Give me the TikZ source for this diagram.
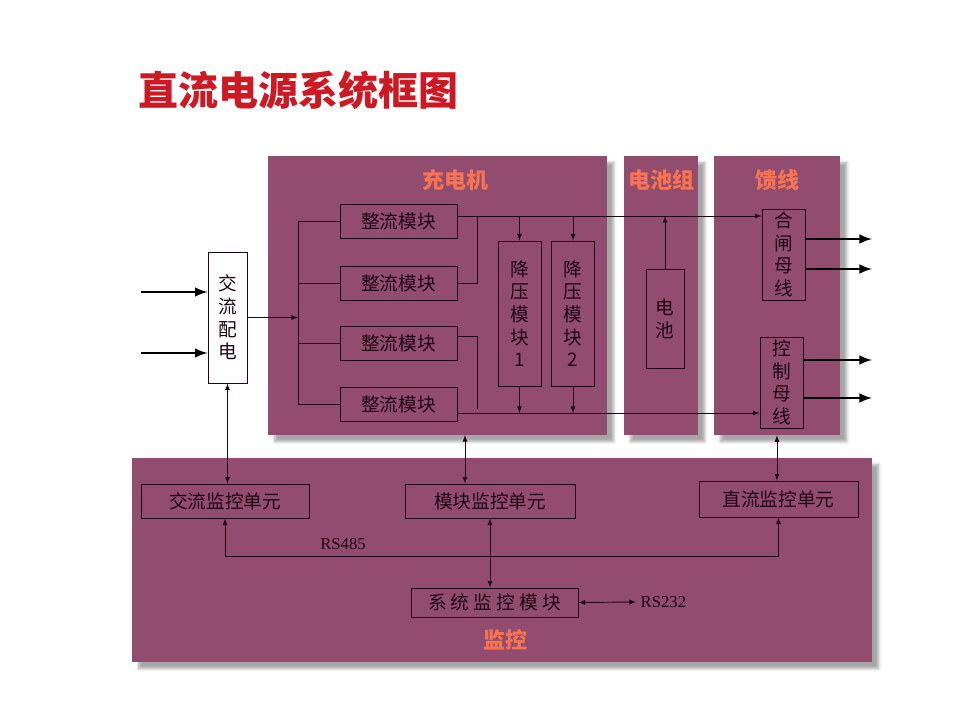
\documentclass[tikz,border=0pt]{standalone}
\usepackage{fontspec}
\setmainfont{Noto Sans CJK SC}
\newfontfamily\rsfont{Liberation Serif}
\usetikzlibrary{arrows,positioning,calc,fit,shadows.blur}
\definecolor{panelplum}{RGB}{145,76,111}
\definecolor{inkdark}{RGB}{32,6,20}
\definecolor{titlered}{RGB}{205,25,35}
\definecolor{paneltitle}{RGB}{250,115,80}
\tikzset{
  panel/.style={fill=panelplum, inner sep=0pt,
    blur shadow={shadow xshift=5pt, shadow yshift=-5pt, shadow opacity=35}},
  grouptitle/.style={text=paneltitle, font=\fontsize{16.5}{16.5}\selectfont\bfseries},
  box/.style={draw=inkdark, line width=0.7pt, text=inkdark, inner sep=0pt,
    font=\fontsize{14}{17}\selectfont, align=center},
  rectbox/.style={box, minimum width=87.75pt, minimum height=25.5pt},
  monbox/.style={box, minimum height=25.5pt},
  wire/.style={draw=inkdark, line width=0.7pt},
  fat/.style={draw=black, line width=2.2pt, -latex},
  rslabel/.style={text=inkdark, font=\rsfont\fontsize{12.5}{12.5}\selectfont}
}

\begin{document}
\begin{tikzpicture}[x=0.75pt,y=-0.75pt]
\useasboundingbox (0,0) rectangle (960,720);
% title
\node[anchor=west, text=titlered, font=\fontsize{30}{30}\selectfont\bfseries] (title) at (134,90) {直流电源系统框图};

% panels
\node[panel, fit={(268,156) (607,435)}] (charger) {};
\node[panel, fit={(624,156) (698,435)}] (battgroup) {};
\node[panel, fit={(714,156) (840,435)}] (feeder) {};
\node[panel, fit={(132,458) (872,662)}] (monitor) {};
\node[grouptitle] (chgtitle) at (455,180) {充电机};
\node[grouptitle] (battitle) at (661,180) {电池组};
\node[grouptitle] (feedtitle) at (777,180) {馈线};
\node[grouptitle] (montitle) at (505,640) {监控};

% AC distribution
\node[box, fill=white, minimum width=29.25pt, minimum height=98.25pt] (acdist) at (227.5,317.5) {交\\流\\配\\电};

% charger
\node[rectbox] (rect1) at (398.5,221.5) {整流模块};
\node[rectbox] (rect2) at (398.5,283) {整流模块};
\node[rectbox] (rect3) at (398.5,343.5) {整流模块};
\node[rectbox] (rect4) at (398.5,404.5) {整流模块};
\node[box, minimum width=32.25pt, minimum height=108.75pt] (buck1) at (519.5,313.5) {降\\压\\模\\块\\1};
\node[box, minimum width=32.25pt, minimum height=108.75pt] (buck2) at (573,313.5) {降\\压\\模\\块\\2};

% battery and feeder
\node[box, minimum width=28.5pt, minimum height=74.25pt] (battery) at (665,318.5) {电\\池};
\node[box, minimum width=32.25pt, minimum height=68.25pt] (closebus) at (783.5,254.5) {合\\闸\\母\\线};
\node[box, minimum width=32.25pt, minimum height=68.25pt] (ctrlbus) at (781.5,382.5) {控\\制\\母\\线};

% monitoring units
\node[monbox, minimum width=126pt] (acmon) at (225,501) {交流监控单元};
\node[monbox, minimum width=127.5pt] (modmon) at (490,501) {模块监控单元};
\node[monbox, minimum width=119.25pt, minimum height=27pt] (dcmon) at (778.5,499) {直流监控单元};
\node[box, minimum width=125.25pt, minimum height=21.75pt] (sysmon) at (494.5,602.5) {系 统 监 控 模 块};
\node[rslabel] (rs485) at (343,544) {RS485};
\node[rslabel, anchor=west] (rs232) at (636,602) {RS232};

% helper coordinates
\coordinate (busx) at (298,0);
\coordinate (joinx) at (477,0);
\coordinate (toprail) at (0,216);
\coordinate (botrail) at (0,413);
\coordinate (r3out) at (0,336);
\coordinate (r3end) at (0,409);
\coordinate (acin) at (141,0);
\coordinate (feedout) at (872,0);
\coordinate (chgport) at (465,435);
\coordinate (rsbus) at (0,556);

% AC inputs and rectifier bus
\foreach \y in {292,353}
  \draw[fat] (acin |- 0,\y) -- (acdist.west |- 0,\y);
\draw[wire, -latex] (acdist.east) -- (acdist.east -| busx);
\draw[wire] (rect1.west) -- (rect1.west -| busx) -- (rect4.west -| busx) -- (rect4.west);
\draw[wire] (rect2.west) -- (rect2.west -| busx);
\draw[wire] (rect3.west) -- (rect3.west -| busx);

% rectifier outputs
\draw[wire, -latex] (rect1.east |- toprail) -- (closebus.west |- toprail);
\draw[wire] (rect2.east) -| (joinx |- toprail);
\draw[wire] (rect3.east |- r3out) -| (joinx |- r3end);
\draw[wire, -latex] (rect4.east |- botrail) -- (ctrlbus.west |- botrail);
\foreach \b in {buck1,buck2} {
  \draw[wire, -latex] (\b.north |- toprail) -- (\b.north);
  \draw[wire, -latex] (\b.south) -- (\b.south |- botrail);
}
\draw[wire, -latex] (battery.north) -- (battery.north |- toprail);

% feeder outputs
\foreach \y/\src in {239/closebus, 269/closebus, 360/ctrlbus, 398/ctrlbus}
  \draw[fat] (\src.east |- 0,\y) -- (feedout |- 0,\y);

% monitoring links
\draw[wire, latex-latex] (acdist.south) -- (acdist.south |- acmon.north);
\draw[wire, latex-latex] (chgport) -- (chgport |- modmon.north);
\draw[wire, latex-latex] (feeder.south) -- (feeder.south |- dcmon.north);
\draw[wire, latex-latex] (acmon.south) |- (dcmon.south |- rsbus) -- (dcmon.south);
\draw[wire, latex-latex] (modmon.south) -- (modmon.south |- sysmon.north);
\draw[wire, latex-latex] (sysmon.east) -- (rs232.west);
\end{tikzpicture}
\end{document}
